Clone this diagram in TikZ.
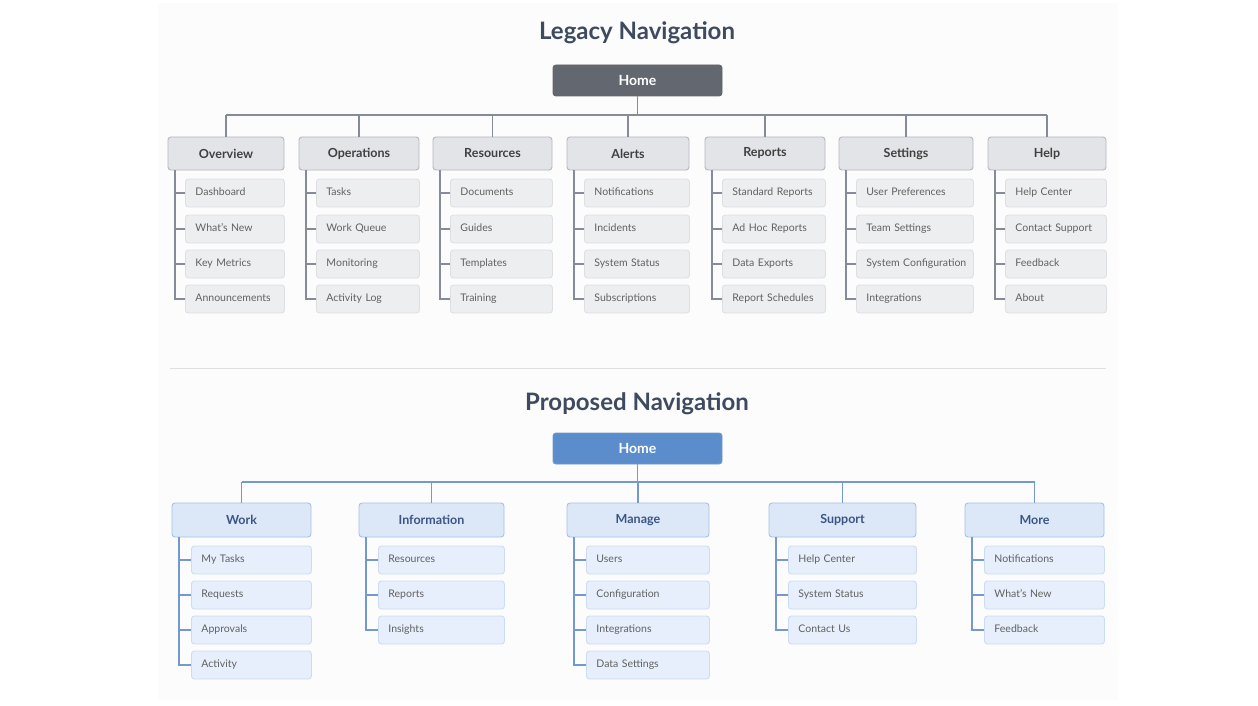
\documentclass[tikz,border=0pt]{standalone}
\usepackage{fontspec}
\setmainfont{Lato}
\definecolor{ttlc}{HTML}{3E4A60}
\definecolor{lln}{HTML}{858B98}
\definecolor{lcf}{HTML}{E3E4E8}
\definecolor{lcd}{HTML}{B4B7BE}
\definecolor{lkf}{HTML}{EDEEF0}
\definecolor{lkd}{HTML}{DDDFE3}
\definecolor{lhf}{HTML}{63676F}
\definecolor{pln}{HTML}{7399CF}
\definecolor{pcf}{HTML}{DCE8F8}
\definecolor{pcd}{HTML}{A6C2E8}
\definecolor{pkf}{HTML}{E6EFFB}
\definecolor{pkd}{HTML}{CCDDF3}
\definecolor{phf}{HTML}{5B8CCB}
\definecolor{ptx}{HTML}{3A5585}
\begin{document}
\begin{tikzpicture}[x=1pt,y=-1pt,
 box/.style={rounded corners=3pt,line width=0.9pt,inner sep=0pt},
 lcat/.style={box,draw=lcd,fill=lcf,text=black!75,font=\fontsize{12.5}{14}\selectfont\bfseries},
 lch/.style={box,draw=lkd,fill=lkf,text=black!62,anchor=west,align=left,inner xsep=10pt,text width=#1,text height=8pt,text depth=2.5pt,font=\fontsize{10.5}{12}\selectfont},
 pcat/.style={box,draw=pcd,fill=pcf,text=ptx,font=\fontsize{12.5}{14}\selectfont\bfseries},
 pch/.style={box,draw=pkd,fill=pkf,text=black!62,anchor=west,align=left,inner xsep=10pt,text width=#1,text height=8pt,text depth=2.5pt,font=\fontsize{10.5}{12}\selectfont},
 lline/.style={draw=lln,line width=1.1pt},
 pline/.style={draw=pln,line width=1.1pt},
 ttl/.style={font=\fontsize{24}{28}\selectfont\bfseries,text=ttlc}]
\useasboundingbox[fill=white] (0,0) rectangle (1258,706);
\fill[gray!2] (158,3) rectangle (1118,700);
\node[ttl] (t1) at (637,33) {Legacy Navigation};
\node[ttl] (t2) at (637,404) {Proposed Navigation};
\draw[gray!25,line width=0.8pt] (170,368) coordinate (d1) -- (1106,368) coordinate (d2);
% Legacy
\node[box,fill=lhf,draw=black!60,text=white,minimum width=169pt,minimum height=31pt,font=\fontsize{14}{16}\selectfont\bfseries] (lh) at (637.5,80.5) {Home};
\coordinate (lb) at (637.5,115);
\draw[lline] (lh.south) -- (lb);
\foreach \n/\l/\r/\lab/\a/\b/\c/\d in {
 1/168/284/Overview/Dashboard/What's New/Key Metrics/Announcements,
 2/299/419/Operations/Tasks/Work Queue/Monitoring/Activity Log,
 3/433/552/Resources/Documents/Guides/Templates/Training,
 4/567/689/Alerts/Notifications/Incidents/System Status/Subscriptions,
 5/705/825/Reports/Standard Reports/Ad Hoc Reports/Data Exports/Report Schedules,
 6/839/973/Settings/User Preferences/Team Settings/System Configuration/Integrations,
 7/988/1106/Help/Help Center/Contact Support/Feedback/About}{
 \node[lcat,minimum width={\r-\l},minimum height=33pt] (lc\n) at ({(\l+\r)/2},153.5) {\lab};
 \coordinate (lt\n) at ({(\l+\r)/2},115);
 \draw[lline] (lt\n) -- (lc\n.north);
 \coordinate (lv\n) at ({\l+7},170);
 \foreach \k/\t/\y in {1/\a/193,2/\b/229,3/\c/264,4/\d/299}{
  \node[lch={\r-\l-17-20},minimum height=28pt] (lk\n\k) at ({\l+17},\y) {\mbox{\t}};
  \draw[lline] (lv\n) |- (lk\n\k.west);
 }
}
\draw[lline] (lt1) -- (lt7);
% Proposed
\node[box,fill=phf,draw=pln,text=white,minimum width=169pt,minimum height=31pt,font=\fontsize{14}{16}\selectfont\bfseries] (ph) at (637.5,448.5) {Home};
\coordinate (pb) at (637.5,482);
\draw[pline] (ph.south) -- (pb);
\foreach \n/\l/\r/\lab/\items in {
 1/172/311/Work/{My Tasks/560,Requests/595,Approvals/630,Activity/665},
 2/359/504/Information/{Resources/560,Reports/595,Insights/630},
 3/567/709/Manage/{Users/560,Configuration/595,Integrations/630,Data Settings/665},
 4/769/916/Support/{Help Center/560,System Status/595,Contact Us/630},
 5/965/1104/More/{Notifications/560,What's New/595,Feedback/630}}{
 \node[pcat,minimum width={\r-\l},minimum height=34pt] (pc\n) at ({(\l+\r)/2},520) {\lab};
 \coordinate (pt\n) at ({(\l+\r)/2},482);
 \draw[pline] (pt\n) -- (pc\n.north);
 \coordinate (pv\n) at ({\l+7},537);
 \foreach \t/\y [count=\k] in \items{
  \node[pch={\r-\l-19-20},minimum height=28pt] (pk\n\k) at ({\l+19},\y) {\mbox{\t}};
  \draw[pline] (pv\n) |- (pk\n\k.west);
 }
}
\draw[pline] (pt1) -- (pt5);
\end{tikzpicture}
\end{document}
